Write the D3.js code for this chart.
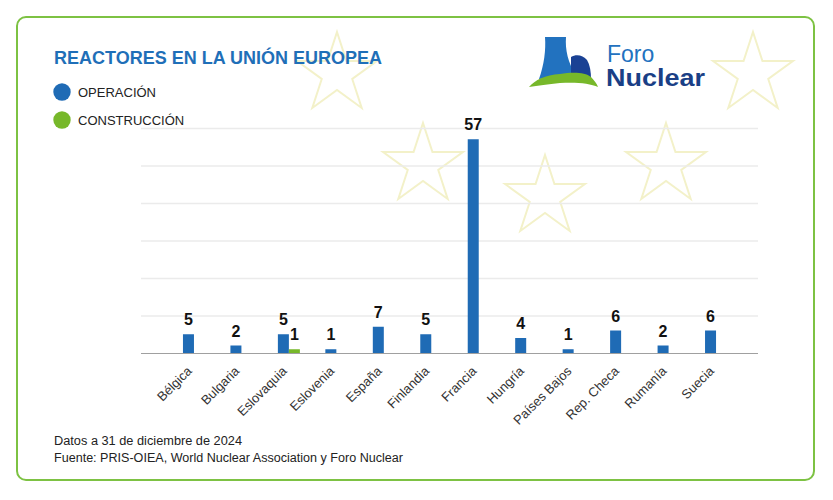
<!DOCTYPE html>
<html>
<head>
<meta charset="utf-8">
<script src="https://cdn.jsdelivr.net/npm/d3@7"></script>
<style>
  body { margin: 0; background: #fff; }
  text { font-family: "Liberation Sans", Arial, sans-serif; }
</style>
</head>
<body>
<div id="chart"></div>
<script>
const W = 833, H = 500;

// data
const paises = ["Bélgica", "Bulgaria", "Eslovaquia", "Eslovenia", "España", "Finlandia",
  "Francia", "Hungría", "Países Bajos", "Rep. Checa", "Rumanía", "Suecia"];
const operacion = [5, 2, 5, 1, 7, 5, 57, 4, 1, 6, 2, 6];
const construccion = [0, 0, 1, 0, 0, 0, 0, 0, 0, 0, 0, 0];
const yTicks = [0, 10, 20, 30, 40, 50, 60];
const series = ["OPERACIÓN", "CONSTRUCCIÓN"];

const azul = "#1f6bb5";
const verde = "#77b82a";

const svg = d3.select("#chart").append("svg").attr("width", W).attr("height", H);

// frame
svg.append("rect")
  .attr("x", 17).attr("y", 17)
  .attr("width", 797).attr("height", 463)
  .attr("rx", 9)
  .attr("fill", "#fff")
  .attr("stroke", "#7dc243")
  .attr("stroke-width", 2);

// background stars (decoration)
function starPath(cx, cy, R) {
  const r = R * 0.382;
  const pts = [];
  for (let i = 0; i < 10; i++) {
    const a = -Math.PI / 2 + i * Math.PI / 5;
    const rr = i % 2 === 0 ? R : r;
    pts.push([cx + rr * Math.cos(a), cy + rr * Math.sin(a)]);
  }
  return "M" + pts.map(p => p.join(",")).join("L") + "Z";
}
const stars = [[337, 74], [753, 74], [423, 165], [545, 197], [666, 165]];
svg.selectAll(".star").data(stars).enter().append("path")
  .attr("class", "star")
  .attr("d", d => starPath(d[0], d[1], 42))
  .attr("fill", "none")
  .attr("stroke", "#f3f1c9")
  .attr("stroke-width", 2);

// scales
const x0 = d3.scaleBand().domain(paises).range([141, 758]).paddingInner(0).paddingOuter(0.5);
const y = d3.scaleLinear().domain([0, 60]).range([353, 128]);
const barW = 11;

// grid
svg.append("g").selectAll("line").data(yTicks.slice(1)).enter().append("line")
  .attr("x1", 141).attr("x2", 758)
  .attr("y1", d => y(d) + 0.5).attr("y2", d => y(d) + 0.5)
  .attr("stroke", "#ebebeb").attr("stroke-width", 1.5);

// x axis
const xAxis = svg.append("g")
  .attr("transform", "translate(0," + (y(0) + 0.5) + ")")
  .call(d3.axisBottom(x0).tickSize(0).tickSizeOuter(0));
xAxis.select(".domain").attr("stroke", "#a0a0a0").attr("d", "M141,0H758");
xAxis.selectAll("text")
  .attr("font-size", 13)
  .attr("fill", "#333")
  .attr("font-family", "Liberation Sans, Arial, sans-serif")
  .attr("text-anchor", "end")
  .attr("x", -10)
  .attr("y", 16)
  .attr("dy", 0)
  .attr("transform", "rotate(-45)");

// bars
const cx = d => x0(d) + x0.bandwidth() / 2;
svg.append("g").selectAll("rect").data(paises).enter().append("rect")
  .attr("x", (d) => cx(d) - barW / 2)
  .attr("y", (d, i) => y(operacion[i]))
  .attr("width", barW)
  .attr("height", (d, i) => y(0) - y(operacion[i]))
  .attr("fill", azul);

svg.append("g").selectAll("rect").data(paises.filter((d, i) => construccion[i] > 0)).enter().append("rect")
  .attr("x", (d) => cx(d) + barW / 2)
  .attr("y", d => y(construccion[paises.indexOf(d)]))
  .attr("width", barW)
  .attr("height", d => y(0) - y(construccion[paises.indexOf(d)]))
  .attr("fill", verde);

// value labels
svg.append("g").selectAll("text").data(paises).enter().append("text")
  .attr("x", d => cx(d))
  .attr("y", (d, i) => y(operacion[i]) - 9)
  .attr("text-anchor", "middle")
  .attr("font-size", 16).attr("font-weight", "bold").attr("fill", "#111")
  .text((d, i) => operacion[i]);

svg.append("g").selectAll("text").data(paises.filter((d, i) => construccion[i] > 0)).enter().append("text")
  .attr("x", d => cx(d) + barW)
  .attr("y", d => y(construccion[paises.indexOf(d)]) - 9)
  .attr("text-anchor", "middle")
  .attr("font-size", 16).attr("font-weight", "bold").attr("fill", "#111")
  .text(d => construccion[paises.indexOf(d)]);

// title
svg.append("text")
  .attr("x", 54).attr("y", 64)
  .attr("font-size", 17.5).attr("font-weight", "bold").attr("fill", "#1f6fb8")
  .attr("textLength", 328).attr("lengthAdjust", "spacingAndGlyphs")
  .text("REACTORES EN LA UNIÓN EUROPEA");

// legend
const leg = svg.append("g").selectAll("g").data(series).enter().append("g")
  .attr("transform", (d, i) => "translate(62," + (92 + i * 28) + ")");
leg.append("circle").attr("r", 8.7).attr("fill", (d, i) => i === 0 ? azul : verde);
leg.append("text").attr("x", 16).attr("y", 5)
  .attr("font-size", 13).attr("fill", "#222")
  .text(d => d);

// footer
svg.append("text").attr("x", 54).attr("y", 445)
  .attr("font-size", 12.5).attr("fill", "#222")
  .attr("textLength", 188).attr("lengthAdjust", "spacingAndGlyphs")
  .text("Datos a 31 de diciembre de 2024");
svg.append("text").attr("x", 54).attr("y", 462)
  .attr("font-size", 12.5).attr("fill", "#222")
  .attr("textLength", 349).attr("lengthAdjust", "spacingAndGlyphs")
  .text("Fuente: PRIS-OIEA, World Nuclear Association y Foro Nuclear");

// logo
const logo = svg.append("g");
logo.append("path")
  .attr("d", "M545,37 L566,37 C565,50 568,62 576,76 L539,79 C544,65 546,50 545,37 Z")
  .attr("fill", "#2272bf");
logo.append("path")
  .attr("d", "M571,79 L571,57 C576,54 583,55 587,60 C590,65 591,72 591,79 Z")
  .attr("fill", "#1a4194");
logo.append("path")
  .attr("d", "M529,87 C535,80 545,75 560,74 C572,72 585,72 591,77 C594,80 597,84 598,87 C590,83 575,82 560,83 C548,84 538,86 529,87 Z")
  .attr("fill", "#77b82a");
logo.append("text").attr("x", 607).attr("y", 62)
  .attr("font-family", "Open Sans, sans-serif")
  .attr("font-size", 23).attr("fill", "#2272bf")
  .text("Foro");
logo.append("text").attr("x", 606).attr("y", 86)
  .attr("font-family", "Open Sans, sans-serif")
  .attr("font-size", 23).attr("font-weight", "bold").attr("fill", "#1a3f86")
  .attr("textLength", 99).attr("lengthAdjust", "spacingAndGlyphs")
  .text("Nuclear");
</script>
</body>
</html>
